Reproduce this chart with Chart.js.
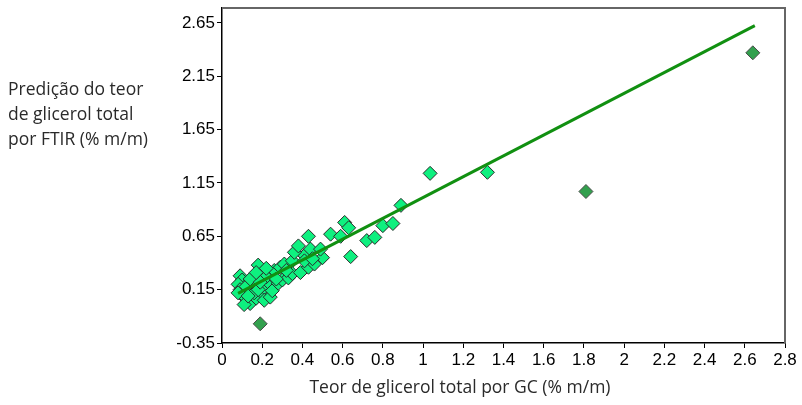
<!DOCTYPE html>
<html>
<head>
<meta charset="utf-8">
<script src="https://cdn.jsdelivr.net/npm/chart.js@4.4.1/dist/chart.umd.min.js"></script>
<style>
  html, body { margin: 0; padding: 0; background: #fff; }
  #wrap { position: relative; width: 802px; height: 405px; }
</style>
</head>
<body>
<div id="wrap"><canvas id="scatterChart" width="802" height="405"></canvas></div>
<script>
// GC reference values (x) and FTIR predictions (y), % m/m
const gcVals = [
  0.18, 0.09, 0.10, 0.13, 0.11, 0.10, 0.12, 0.15, 0.14, 0.17,
  0.20, 0.21, 0.23, 0.25, 0.26, 0.29, 0.31, 0.35, 0.41, 0.21,
  0.24, 0.25, 0.28, 0.30, 0.33, 0.35, 0.39, 0.43, 0.46, 0.50,
  0.08, 0.09, 0.12, 0.16, 0.18, 0.20, 0.14, 0.22, 0.27, 0.32,
  0.08, 0.11, 0.13, 0.19, 0.17, 0.22,
  0.36, 0.38, 0.41, 0.43, 0.44, 0.45, 0.49, 0.54, 0.59, 0.61,
  0.63, 0.64, 0.72, 0.76, 0.80, 0.85, 0.89, 1.035, 1.32
];
const ftirVals = [
  0.38, 0.28, 0.24, 0.21, 0.14, 0.10, 0.07, 0.05, 0.02, 0.07,
  0.12, 0.17, 0.22, 0.28, 0.33, 0.36, 0.39, 0.42, 0.47, 0.05,
  0.08, 0.14, 0.21, 0.24, 0.26, 0.30, 0.31, 0.36, 0.39, 0.45,
  0.20, 0.15, 0.18, 0.12, 0.15, 0.30, 0.25, 0.27, 0.25, 0.33,
  0.12, 0.01, 0.09, 0.22, 0.31, 0.35,
  0.50, 0.56, 0.42, 0.65, 0.53, 0.44, 0.53, 0.67, 0.65, 0.78,
  0.73, 0.46, 0.61, 0.64, 0.75, 0.77, 0.94, 1.24, 1.25
];

// samples flagged separately (darker markers)
const outlierGc = [0.19, 1.81, 2.64];
const outlierFtir = [-0.17, 1.07, 2.37];

// fitted line end points
const fitX = [0.08, 2.65];
const fitY = [0.115, 2.625];

const xTicks = [0, 0.2, 0.4, 0.6, 0.8, 1, 1.2, 1.4, 1.6, 1.8, 2, 2.2, 2.4, 2.6, 2.8];
const xTickLabels = ['0', '0.2', '0.4', '0.6', '0.8', '1', '1.2', '1.4', '1.6', '1.8', '2', '2.2', '2.4', '2.6', '2.8'];
const yTicks = [-0.35, 0.15, 0.65, 1.15, 1.65, 2.15, 2.65];
const yTickLabels = ['-0.35', '0.15', '0.65', '1.15', '1.65', '2.15', '2.65'];

const xTitle = 'Teor de glicerol total por GC (% m/m)';
const yTitle = ['Predição do teor', 'de glicerol total', 'por FTIR (% m/m)'];

const toPoints = (xs, ys) => xs.map((x, i) => ({ x: x, y: ys[i] }));

// gray frame on top/right plus the free-standing axis titles
const frameAndTitles = {
  id: 'frameAndTitles',
  beforeDatasetsDraw(chart) {
    const { ctx, chartArea } = chart;
    ctx.save();
    ctx.strokeStyle = '#666';
    ctx.lineWidth = 2;
    ctx.beginPath();
    ctx.moveTo(chartArea.left, chartArea.top);
    ctx.lineTo(chartArea.right, chartArea.top);
    ctx.lineTo(chartArea.right, chartArea.bottom);
    ctx.stroke();
    ctx.restore();
  },
  afterDraw(chart) {
    const ctx = chart.ctx;
    ctx.save();
    ctx.fillStyle = '#2a2a2a';
    ctx.font = '17.5px "Open Sans"';
    ctx.textBaseline = 'middle';
    ctx.textAlign = 'left';
    yTitle.forEach((line, i) => ctx.fillText(line, 8, 90 + i * 25));
    ctx.textAlign = 'center';
    ctx.fillText(xTitle, 460, 388);
    ctx.restore();
  }
};

new Chart('scatterChart', {
  type: 'scatter',
  data: {
    datasets: [
      {
        type: 'line',
        data: toPoints(fitX, fitY),
        borderColor: '#119011',
        borderWidth: 3,
        pointRadius: 0,
        fill: false
      },
      {
        data: toPoints(outlierGc, outlierFtir),
        pointStyle: 'rectRot',
        pointRadius: 7,
        backgroundColor: '#33a04e',
        borderColor: '#4a4a4a',
        borderWidth: 1
      },
      {
        data: toPoints(gcVals, ftirVals),
        pointStyle: 'rectRot',
        pointRadius: 7,
        backgroundColor: '#0ef07f',
        borderColor: '#2a2a2a',
        borderWidth: 1
      }
    ]
  },
  options: {
    responsive: false,
    animation: false,
    layout: { padding: { top: 5, right: 17, left: 0, bottom: 0 } },
    plugins: {
      legend: { display: false },
      tooltip: { enabled: false }
    },
    scales: {
      x: {
        type: 'linear',
        min: 0,
        max: 2.8,
        afterBuildTicks: (scale) => { scale.ticks = xTicks.map(v => ({ value: v })); },
        afterFit: (scale) => { scale.height = 62; },
        ticks: {
          callback: (v, i) => xTickLabels[i],
          color: '#000',
          font: { family: '"Liberation Sans", Arial', size: 17 },
          padding: 2,
          maxRotation: 0,
          autoSkip: false
        },
        grid: { drawOnChartArea: false, drawTicks: true, tickLength: 5, color: '#000' },
        border: { color: '#000', width: 1.5 }
      },
      y: {
        type: 'linear',
        min: -0.35,
        max: 2.79,
        afterBuildTicks: (scale) => { scale.ticks = yTicks.map(v => ({ value: v })); },
        afterFit: (scale) => {
          scale.width = 222;
          scale.paddingTop = 0;
          scale.paddingBottom = 0;
        },
        ticks: {
          callback: (v, i) => yTickLabels[i],
          color: '#000',
          font: { family: '"Liberation Sans", Arial', size: 17 },
          padding: 2,
          autoSkip: false
        },
        grid: { drawOnChartArea: false, drawTicks: true, tickLength: 5, color: '#000' },
        border: { color: '#000', width: 1.5 }
      }
    }
  },
  plugins: [frameAndTitles]
});
</script>
</body>
</html>
